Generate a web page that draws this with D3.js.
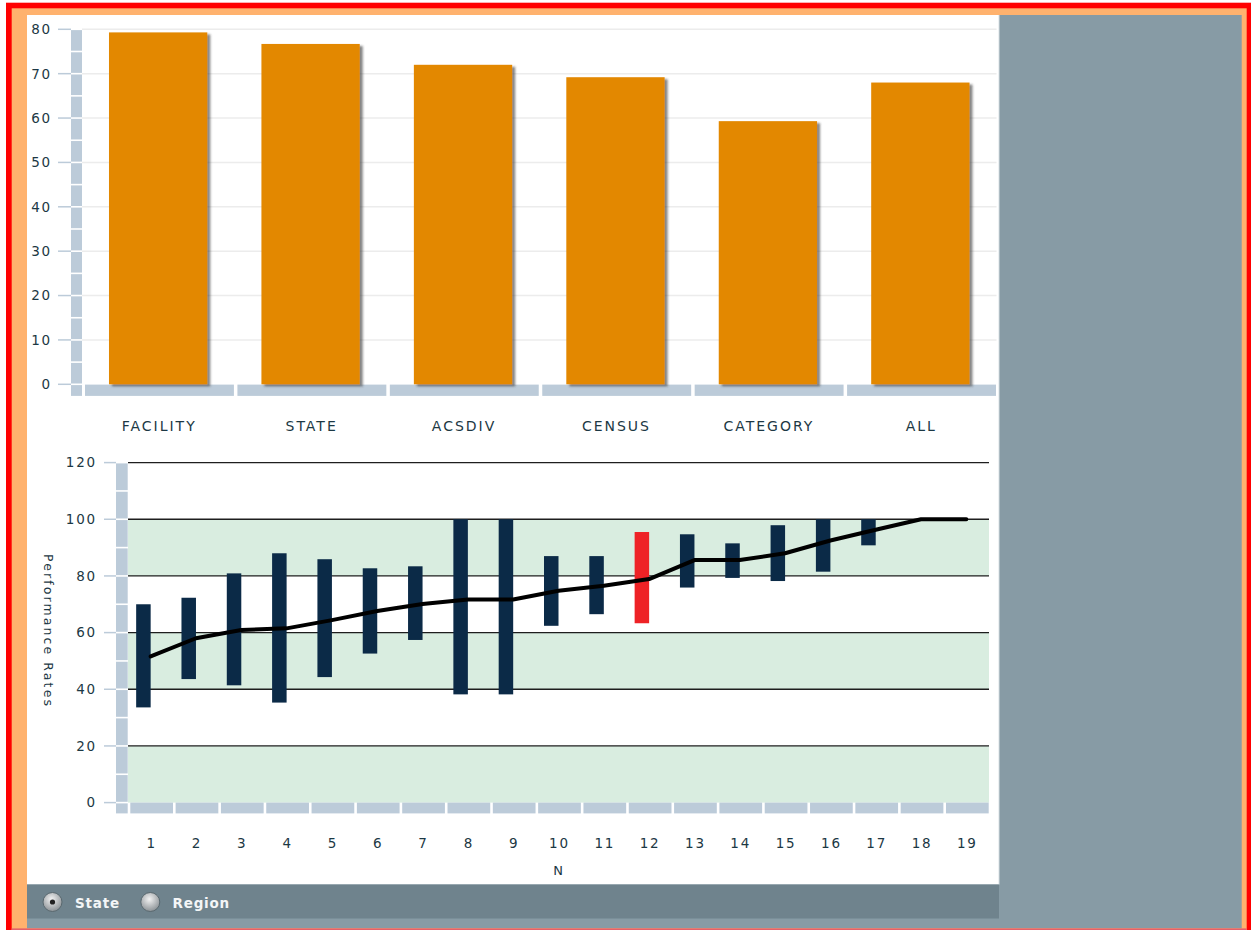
<!DOCTYPE html>
<html>
<head>
<meta charset="utf-8">
<script src="https://cdn.jsdelivr.net/npm/d3@7"></script>
<style>
	body { margin: 0; background: #fff; }
	svg { display: block; }
	text { font-family: "DejaVu Sans", Verdana, sans-serif; fill: #1c3844; }
</style>
</head>
<body>
<svg id="chart" width="1251" height="930"></svg>
<script>
// --- data ---
const categories = ["FACILITY", "STATE", "ACSDIV", "CENSUS", "CATEGORY", "ALL"];
const rates = [79.3, 76.7, 72.0, 69.2, 59.3, 68.0];
const topTicks = [0, 10, 20, 30, 40, 50, 60, 70, 80];

const nLabels = ["1", "2", "3", "4", "5", "6", "7", "8", "9", "10", "11", "12", "13", "14", "15", "16", "17", "18", "19"];
const rangeLow = [33.6, 43.6, 41.4, 35.3, 44.3, 52.6, 57.4, 38.2, 38.2, 62.4, 66.5, 63.3, 75.9, 79.3, 78.2, 81.5, 90.8, null, null];
const rangeHigh = [70.0, 72.3, 80.9, 88.0, 85.9, 82.7, 83.4, 100, 100, 87.0, 87.0, 95.5, 94.7, 91.5, 97.9, 100, 100, null, null];
const medianRate = [51.6, 58.0, 60.9, 61.5, 64.4, 67.6, 70.1, 71.7, 71.7, 74.8, 76.5, 78.9, 85.6, 85.6, 88.0, 92.5, 96.3, 100, 100];
const highlighted = "12";
const bottomTicks = [0, 20, 40, 60, 80, 100, 120];
const shadedBands = [[0, 20], [40, 60], [80, 100]];
const options = ["State", "Region"];

const svg = d3.select("#chart");

// --- frame ---
svg.append("rect").attr("x", 6).attr("y", 2.7).attr("width", 1245).attr("height", 930).attr("fill", "#ff0000");
svg.append("rect").attr("x", 11.7).attr("y", 8.3).attr("width", 1235).attr("height", 930).attr("fill", "#ffb26e");
svg.append("rect").attr("x", 27).attr("y", 15).attr("width", 1214.7).attr("height", 913.3).attr("fill", "#879ba5");
svg.append("rect").attr("x", 11.7).attr("y", 928.4).attr("width", 1235).attr("height", 2).attr("fill", "#e4606a");
svg.append("rect").attr("x", 27).attr("y", 15).attr("width", 972).attr("height", 869.5).attr("fill", "#fff");
svg.append("line").attr("x1", 999).attr("x2", 999).attr("y1", 15).attr("y2", 884.5)
	.attr("stroke", "#d8e0e4").attr("stroke-width", 1);
svg.append("rect").attr("x", 27).attr("y", 884.5).attr("width", 972).attr("height", 34).attr("fill", "#6f838d");

const defs = svg.append("defs");
const shadow = defs.append("filter").attr("id", "barShadow")
	.attr("x", "-10%").attr("y", "-10%").attr("width", "130%").attr("height", "130%");
shadow.append("feDropShadow").attr("dx", 3).attr("dy", 2).attr("stdDeviation", 1.2)
	.attr("flood-color", "#333").attr("flood-opacity", 0.6);
const radioGrad = defs.append("radialGradient").attr("id", "radioGrad")
	.attr("cx", "45%").attr("cy", "35%").attr("r", "65%");
radioGrad.append("stop").attr("offset", "0%").attr("stop-color", "#f2f2f2");
radioGrad.append("stop").attr("offset", "100%").attr("stop-color", "#8c9296");

const AXIS_FILL = "#bccbd9";

// -------------------------
// Top bar chart
// -------------------------
const xTop = d3.scaleBand().domain(categories).range([82, 996.5]).paddingInner(0.355).paddingOuter(0.177);
const xTopBand = d3.scaleBand().domain(categories).range([82, 996.5]);
const yTop = d3.scaleLinear().domain([0, 80]).range([384.3, 29.3]);

const topChart = svg.append("g");

// gridlines
topChart.append("g").selectAll("line").data(topTicks.filter((d) => d > 0)).enter().append("line")
	.attr("x1", 82).attr("x2", 996.5)
	.attr("y1", (d) => yTop(d)).attr("y2", (d) => yTop(d))
	.attr("stroke", "#ececec").attr("stroke-width", 1.5);

// vertical axis bar, split every 5 units
const topSegs = d3.range(0, 80, 5);
topChart.append("g").selectAll("rect").data(topSegs).enter().append("rect")
	.attr("x", 71).attr("width", 11)
	.attr("y", (d) => yTop(d + 5) + 0.8)
	.attr("height", (d) => yTop(d) - yTop(d + 5) - 1.6)
	.attr("fill", AXIS_FILL);
topChart.append("rect").attr("x", 71).attr("width", 11).attr("y", yTop(0) + 0.8).attr("height", 10.8).attr("fill", AXIS_FILL);

// horizontal axis bar, one segment per category
topChart.append("g").selectAll("rect").data(categories).enter().append("rect")
	.attr("x", (d) => xTopBand(d) + 3)
	.attr("width", xTopBand.bandwidth() - 3.5)
	.attr("y", yTop(0) + 0.3).attr("height", 11.3)
	.attr("fill", AXIS_FILL);

// ticks + labels
const topAxis = topChart.append("g").selectAll("g").data(topTicks).enter().append("g")
	.attr("transform", (d) => `translate(0,${yTop(d)})`);
topAxis.append("line").attr("x1", 58).attr("x2", 71).attr("stroke", AXIS_FILL).attr("stroke-width", 1.5);
topAxis.append("text").attr("x", 52).attr("dy", "0.36em").attr("text-anchor", "end")
	.attr("font-size", 13.5).attr("letter-spacing", 1.8).text((d) => d);

// bars
topChart.append("g").selectAll("rect").data(categories).enter().append("rect")
	.attr("x", (d) => xTop(d))
	.attr("width", xTop.bandwidth())
	.attr("y", (d, i) => yTop(rates[i]))
	.attr("height", (d, i) => yTop(0) - yTop(rates[i]))
	.attr("fill", "#e38800")
	.attr("filter", "url(#barShadow)");

// category labels
topChart.append("g").selectAll("text").data(categories).enter().append("text")
	.attr("x", (d) => xTopBand(d) + xTopBand.bandwidth() / 2 + 1)
	.attr("y", 431)
	.attr("text-anchor", "middle")
	.attr("font-size", 14).attr("letter-spacing", 2)
	.text((d) => d);

// -------------------------
// Bottom range chart
// -------------------------
const xBot = d3.scaleBand().domain(nLabels).range([128, 989]);
const yBot = d3.scaleLinear().domain([0, 120]).range([802.6, 462.6]);
const bot = svg.append("g");
const cx = (d) => xBot(d) + xBot.bandwidth() / 2;

// shaded bands
bot.append("g").selectAll("rect").data(shadedBands).enter().append("rect")
	.attr("x", 128).attr("width", 861)
	.attr("y", (d) => yBot(d[1]))
	.attr("height", (d) => yBot(d[0]) - yBot(d[1]))
	.attr("fill", "#d9ede0");

// black gridlines
bot.append("g").selectAll("line").data(bottomTicks.filter((d) => d > 0)).enter().append("line")
	.attr("x1", 128).attr("x2", 989)
	.attr("y1", (d) => yBot(d)).attr("y2", (d) => yBot(d))
	.attr("stroke", "#1e1e1e").attr("stroke-width", 1.3);

// vertical axis bar, split every 10 units
const botSegs = d3.range(0, 120, 10);
bot.append("g").selectAll("rect").data(botSegs).enter().append("rect")
	.attr("x", 116).attr("width", 11.7)
	.attr("y", (d) => yBot(d + 10) + 0.8)
	.attr("height", (d) => yBot(d) - yBot(d + 10) - 1.6)
	.attr("fill", AXIS_FILL);
bot.append("rect").attr("x", 116).attr("width", 11.7).attr("y", yBot(0) + 0.8).attr("height", 10).attr("fill", AXIS_FILL);

// horizontal axis bar
bot.append("g").selectAll("rect").data(nLabels).enter().append("rect")
	.attr("x", (d) => xBot(d) + 2.3)
	.attr("width", xBot.bandwidth() - 2.6)
	.attr("y", yBot(0)).attr("height", 10.8)
	.attr("fill", AXIS_FILL);

// ticks + labels
const botAxis = bot.append("g").selectAll("g").data(bottomTicks).enter().append("g")
	.attr("transform", (d) => `translate(0,${yBot(d)})`);
botAxis.append("line").attr("x1", 104).attr("x2", 116).attr("stroke", AXIS_FILL).attr("stroke-width", 1.5);
botAxis.append("text").attr("x", 97).attr("dy", "0.36em").attr("text-anchor", "end")
	.attr("font-size", 13.5).attr("letter-spacing", 1.8).text((d) => d);

bot.append("g").selectAll("text").data(nLabels).enter().append("text")
	.attr("x", (d) => cx(d) + 1).attr("y", 848)
	.attr("text-anchor", "middle")
	.attr("font-size", 13.5).attr("letter-spacing", 1.8)
	.text((d) => d);

bot.append("text").attr("x", 558).attr("y", 875).attr("text-anchor", "middle")
	.attr("font-size", 13).text("N");

bot.append("text")
	.attr("transform", `translate(48,631) rotate(90)`)
	.attr("text-anchor", "middle").attr("dy", "0.35em")
	.attr("font-size", 12.5).attr("letter-spacing", 2.1)
	.text("Performance Rates");

// range bars
const rangeData = nLabels.map((d, i) => ({ n: d, lo: rangeLow[i], hi: rangeHigh[i] }))
	.filter((d) => d.lo !== null);
bot.append("g").selectAll("rect").data(rangeData).enter().append("rect")
	.attr("x", (d) => cx(d.n) - 14.5)
	.attr("width", 14.5)
	.attr("y", (d) => yBot(d.hi))
	.attr("height", (d) => yBot(d.lo) - yBot(d.hi))
	.attr("fill", (d) => (d.n === highlighted ? "#ee2226" : "#0b2a47"));

// median line
const line = d3.line()
	.x((d, i) => cx(nLabels[i]))
	.y((d) => yBot(d));
bot.append("path").datum(medianRate)
	.attr("d", line)
	.attr("fill", "none")
	.attr("stroke", "#000")
	.attr("stroke-width", 4)
	.attr("stroke-linejoin", "round")
	.attr("stroke-linecap", "round");

// -------------------------
// Radio options bar
// -------------------------
const radioX = [52.5, 150.3];
const labelX = [75, 172.5];
const radios = svg.append("g").selectAll("g").data(options).enter().append("g");
radios.append("circle")
	.attr("cx", (d, i) => radioX[i]).attr("cy", 902).attr("r", 9.5)
	.attr("fill", "url(#radioGrad)")
	.attr("stroke", "#59686f").attr("stroke-width", 1);
radios.filter((d, i) => i === 0).append("circle")
	.attr("cx", radioX[0]).attr("cy", 902).attr("r", 2.6).attr("fill", "#222");
radios.append("text")
	.attr("x", (d, i) => labelX[i]).attr("y", 907.5)
	.attr("font-size", 13.5).attr("font-weight", "bold").attr("letter-spacing", 0.8)
	.style("fill", "#f4f6f7")
	.text((d) => d);
</script>
</body>
</html>
